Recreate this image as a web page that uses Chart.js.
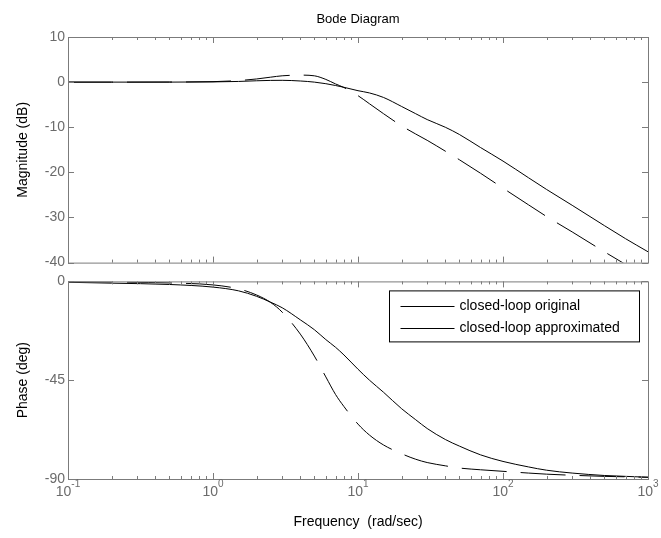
<!DOCTYPE html>
<html>
<head>
<meta charset="utf-8">
<script src="https://cdn.jsdelivr.net/npm/chart.js@4"></script>
<style>
body { margin: 0; background: #fff }
#wrap { position: relative; width: 661px; height: 538px }
canvas { position: absolute; left: 0 }
</style>
</head>
<body>
<div id="wrap">
  <canvas id="phase" width="661" height="268" style="top:270px"></canvas>
  <canvas id="mag" width="661" height="274" style="top:0"></canvas>
</div>
<script>
// values
const freq = [0.1, 0.2, 0.5, 1, 1.5, 2, 2.5, 3, 4, 5, 6, 7, 8, 10, 12, 15, 20, 25, 30, 40, 50, 70, 100, 150, 200, 300, 500, 700, 1000]
const magOriginal = [0, 0, 0, 0.05, 0.15, 0.3, 0.38, 0.4, 0.25, 0, -0.35, -0.75, -1.15, -1.9, -2.4, -3.4, -5.4, -7.0, -8.3, -10.0, -11.6, -14.5, -17.5, -21.2, -23.8, -27.3, -31.8, -34.7, -37.6]
const magApprox = [0, 0, 0.02, 0.1, 0.35, 0.7, 1.1, 1.4, 1.55, 1.4, 0.6, -0.4, -1.2, -3.0, -4.8, -7.0, -9.7, -11.5, -12.9, -15.3, -17.2, -20.2, -23.5, -27.2, -29.8, -33.2, -37.6, -40.4, -43.5]
const phaseOriginal = [-0.4, -0.8, -1.4, -2.6, -4.3, -6.8, -9.5, -12, -17.5, -22, -26.5, -30, -33.5, -40, -45, -50.5, -58, -63, -67, -72, -75, -79, -82, -84.5, -86, -87.3, -88.4, -88.8, -89.2]
const phaseApprox = [-0.1, -0.3, -0.7, -1.6, -3.4, -6.2, -9.6, -14, -24, -34, -43.5, -51.5, -57, -65, -70, -74.5, -78.5, -81, -82.5, -84, -85, -85.8, -86.5, -87.3, -87.8, -88.3, -88.8, -89, -89.2]

const seriesNames = ['closed-loop original', 'closed-loop approximated']
const magTicks = [10, 0, -10, -20, -30, -40]
const phaseTicks = [0, -45, -90]
const freqTicks = [0.1, 1, 10, 100, 1000]
const freqExp = ['-1', '0', '1', '2', '3']

const axisColor = '#7b7b7b'
const labelColor = '#6b6b6b'
const fontFam = '"Liberation Sans", Arial, sans-serif'

const pts = vals => freq.map((f, i) => ({ x: f, y: vals[i] }))

// MATLAB style box, inside ticks, title, legend and 10^n labels
const matlabAxes = {
  id: 'matlabAxes',
  afterDraw(chart, args, opts) {
    const { ctx, chartArea: a, scales: { x, y } } = chart
    ctx.save()
    ctx.strokeStyle = axisColor
    ctx.lineWidth = 1
    ctx.strokeRect(a.left + .5, a.top + .5, a.right - a.left, a.bottom - a.top)
    ctx.beginPath()
    for (let d = -1; d < 3; d++) {
      for (let m = 1; m <= 9; m++) {
        const px = Math.round(x.getPixelForValue(m * Math.pow(10, d))) + .5
        const len = m === 1 ? 6 : 3
        ctx.moveTo(px, a.top); ctx.lineTo(px, a.top + len)
        ctx.moveTo(px, a.bottom); ctx.lineTo(px, a.bottom - len)
      }
    }
    y.ticks.forEach(t => {
      const py = Math.round(y.getPixelForValue(t.value)) + .5
      ctx.moveTo(a.left, py); ctx.lineTo(a.left + 6, py)
      ctx.moveTo(a.right, py); ctx.lineTo(a.right - 6, py)
    })
    ctx.stroke()

    if (opts.title) {
      ctx.fillStyle = '#000'
      ctx.font = '13px ' + fontFam
      ctx.textAlign = 'center'
      ctx.textBaseline = 'alphabetic'
      ctx.fillText(opts.title, (a.left + a.right) / 2, 23)
    }

    if (opts.freqLabels) {
      ctx.fillStyle = labelColor
      ctx.textBaseline = 'alphabetic'
      ctx.textAlign = 'left'
      freqTicks.forEach((f, i) => {
        ctx.font = '14px ' + fontFam
        const w1 = ctx.measureText('10').width
        ctx.font = '10px ' + fontFam
        const w2 = ctx.measureText(freqExp[i]).width
        const left = x.getPixelForValue(f) - (w1 + w2) / 2
        ctx.font = '14px ' + fontFam
        ctx.fillText('10', left, a.bottom + 17)
        ctx.font = '10px ' + fontFam
        ctx.fillText(freqExp[i], left + w1, a.bottom + 8)
      })
    }

    if (opts.legend) {
      const lx = a.right - 258.5, ly = a.top + 9.5, w = 250, h = 51
      ctx.fillStyle = '#fff'
      ctx.fillRect(lx, ly, w, h)
      ctx.strokeStyle = '#000'
      ctx.strokeRect(lx, ly, w, h)
      ctx.font = '14px ' + fontFam
      ctx.textAlign = 'left'
      ctx.textBaseline = 'middle'
      ctx.fillStyle = '#000'
      chart.data.datasets.forEach((ds, i) => {
        const yy = Math.round(ly + 15 + i * 22) + .5
        ctx.beginPath()
        ctx.moveTo(lx + 11, yy); ctx.lineTo(lx + 65, yy)
        ctx.stroke()
        ctx.fillText(ds.label, lx + 70, yy)
      })
    }
    ctx.restore()
  }
}

function makeChart(id, origVals, approxVals, yTicks, yMin, yMax, yTitle, extra) {
  return new Chart(document.getElementById(id), {
    type: 'line',
    data: {
      datasets: [
        { label: seriesNames[0], data: pts(origVals), borderColor: '#000', borderWidth: 1, pointRadius: 0, cubicInterpolationMode: 'monotone' },
        { label: seriesNames[1], data: pts(approxVals), borderColor: '#000', borderWidth: 1, pointRadius: 0, borderDash: [45, 14], cubicInterpolationMode: 'monotone' }
      ]
    },
    options: {
      responsive: false,
      animation: false,
      layout: { padding: extra.padding },
      plugins: { legend: { display: false }, tooltip: { enabled: false }, matlabAxes: extra.plugin },
      scales: {
        x: {
          type: 'logarithmic',
          min: 0.1,
          max: 1000,
          display: extra.showX,
          grid: { display: false, drawTicks: false },
          border: { display: false },
          ticks: { display: false },
          title: { display: extra.showX, text: 'Frequency  (rad/sec)', color: '#000', font: { size: 14, family: fontFam }, padding: { top: 0, bottom: 7 } },
          afterFit: s => { s.height = extra.showX ? 59 : 0 }
        },
        y: {
          min: yMin,
          max: yMax,
          grid: { display: false, drawTicks: false },
          border: { display: false },
          afterBuildTicks: s => { s.ticks = yTicks.map(v => ({ value: v })) },
          ticks: { color: labelColor, padding: 3, font: { size: 14, family: fontFam } },
          title: { display: true, text: yTitle, color: '#000', font: { size: 14, family: fontFam }, padding: { top: 15, bottom: 0 } },
          afterFit: s => { s.width = 68 }
        }
      }
    },
    plugins: [matlabAxes]
  })
}

makeChart('mag', magOriginal, magApprox, magTicks, -40, 10, 'Magnitude (dB)', {
  padding: { top: 37, right: 13, bottom: 0, left: 0 },
  showX: false,
  plugin: { title: 'Bode Diagram' }
})

makeChart('phase', phaseOriginal, phaseApprox, phaseTicks, -90, 0, 'Phase (deg)', {
  padding: { top: 9, right: 13, bottom: 0, left: 0 },
  showX: true,
  plugin: { legend: true, freqLabels: true }
})
</script>
</body>
</html>
